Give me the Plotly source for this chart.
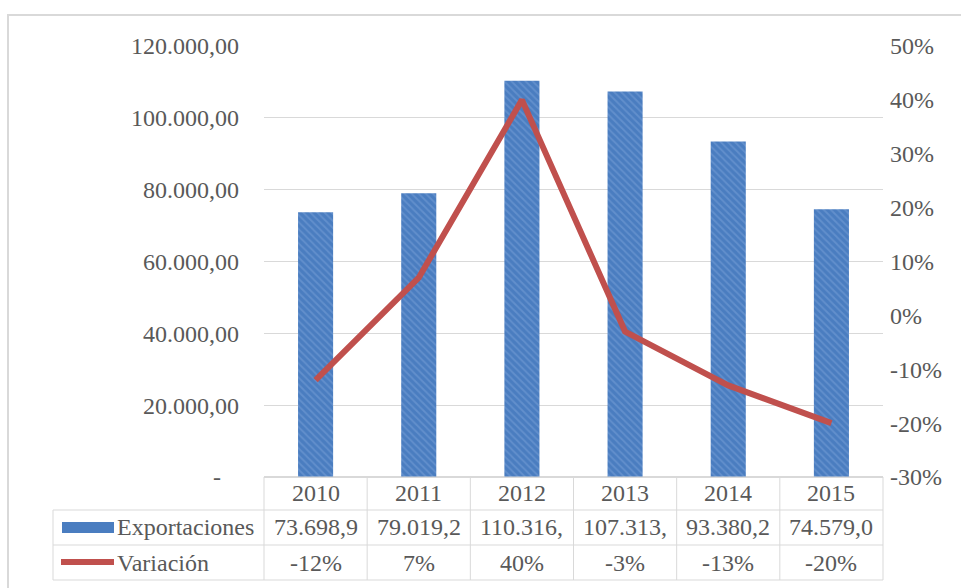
import plotly.graph_objects as go

# Data
years = ["2010", "2011", "2012", "2013", "2014", "2015"]
exportaciones = [73698.9, 79019.2, 110316.4, 107313.6, 93380.2, 74579.0]
variacion = [-0.12, 0.07, 0.40, -0.03, -0.13, -0.20]
left_ticks = [0, 20000, 40000, 60000, 80000, 100000, 120000]
right_ticks = [-0.3, -0.2, -0.1, 0.0, 0.1, 0.2, 0.3, 0.4, 0.5]

W, H = 961, 588
L, R, T, B = 264, 78, 46, 111
PW, PH = W - L - R, H - T - B

FONT = "Liberation Serif"
TXT = "#595959"
GRID = "#d9d9d9"
BLUE = "#4a7dc0"
RED = "#c0504d"


def px(x):
    return (x - L) / PW


def py(y):
    return (H - B - y) / PH


def es_num(v, decimals):
    s = f"{v:,.{decimals}f}"
    return s.replace(",", "#").replace(".", ",").replace("#", ".")


left_text = [es_num(v, 2) if v else "-\u00a0\u00a0\u00a0" for v in left_ticks]
right_text = [f"{round(v * 100)}%" for v in right_ticks]
export_text = [es_num(v, 1)[:8] for v in exportaciones]
var_text = [f"{round(v * 100)}%" for v in variacion]

fig = go.Figure()
fig.add_trace(go.Bar(
    x=years, y=exportaciones, name="Exportaciones", width=0.34,
    marker=dict(color=BLUE, line=dict(width=0),
                pattern=dict(shape="\\", fgcolor="#79a1d8", bgcolor=BLUE,
                             size=5, solidity=0.35)),
    yaxis="y", showlegend=False,
))
fig.add_trace(go.Scatter(
    x=years, y=variacion, name="Variación", mode="lines",
    line=dict(color=RED, width=6), yaxis="y2", showlegend=False,
))

shapes = []
# outer frame
shapes.append(dict(type="rect", xref="paper", yref="paper",
                   x0=px(8), x1=px(975), y0=py(600), y1=py(15),
                   line=dict(color=GRID, width=2), fillcolor="rgba(0,0,0,0)"))

# data table grid
tl, tc, tr = 53, L, L + PW
rows = [H - B, 510, 545, 580]
for i, y in enumerate(rows):
    shapes.append(dict(type="line", xref="paper", yref="paper",
                       x0=px(tc if i == 0 else tl), x1=px(tr), y0=py(y), y1=py(y),
                       line=dict(color=GRID, width=1)))
shapes.append(dict(type="line", xref="paper", yref="paper",
                   x0=px(tl), x1=px(tl), y0=py(510), y1=py(580),
                   line=dict(color=GRID, width=1)))
n = len(years)
for k in range(n + 1):
    xx = k / n
    shapes.append(dict(type="line", xref="paper", yref="paper",
                       x0=xx, x1=xx, y0=py(H - B), y1=py(580),
                       line=dict(color=GRID, width=1)))

# legend keys inside the table
shapes.append(dict(type="rect", xref="paper", yref="paper",
                   x0=px(62), x1=px(114), y0=py(533), y1=py(522),
                   fillcolor=BLUE, line=dict(width=0)))
shapes.append(dict(type="line", xref="paper", yref="paper",
                   x0=px(61), x1=px(114), y0=py(562), y1=py(562),
                   line=dict(color=RED, width=6)))

annotations = []
tfont = dict(family=FONT, size=24, color=TXT)
row_y = [493, 527, 563]
for i, yr in enumerate(years):
    for txt, yy in zip([yr, export_text[i], var_text[i]], row_y):
        annotations.append(dict(x=(i + 0.5) / n, xref="paper", y=py(yy), yref="paper",
                                text=txt, showarrow=False, font=tfont,
                                xanchor="center", yanchor="middle"))
annotations.append(dict(x=px(115), xref="paper", y=py(527), yref="paper",
                        text="Exportaciones", showarrow=False, font=tfont,
                        xanchor="left", yanchor="middle"))
annotations.append(dict(x=px(115), xref="paper", y=py(563), yref="paper",
                        text="Variación", showarrow=False, font=tfont,
                        xanchor="left", yanchor="middle"))

fig.update_layout(
    width=W, height=H,
    margin=dict(l=L, r=R, t=T, b=B),
    paper_bgcolor="white", plot_bgcolor="white",
    font=dict(family=FONT, size=24, color=TXT),
    xaxis=dict(type="category", range=[-0.5, n - 0.5], showticklabels=False,
               showgrid=False, showline=False, zeroline=False, ticks=""),
    yaxis=dict(range=[0, 120000], tickvals=left_ticks, ticktext=left_text,
               showgrid=True, gridcolor=GRID, gridwidth=1,
               zeroline=True, zerolinecolor=GRID, showline=False, ticks="",
               ticklabelstandoff=24),
    yaxis2=dict(range=[-0.3, 0.5], tickvals=right_ticks, ticktext=right_text,
                overlaying="y", side="right", showgrid=False, zeroline=False,
                showline=False, ticks="", ticklabelstandoff=6),
    shapes=shapes,
    annotations=annotations,
)

fig.write_html("out.html")
